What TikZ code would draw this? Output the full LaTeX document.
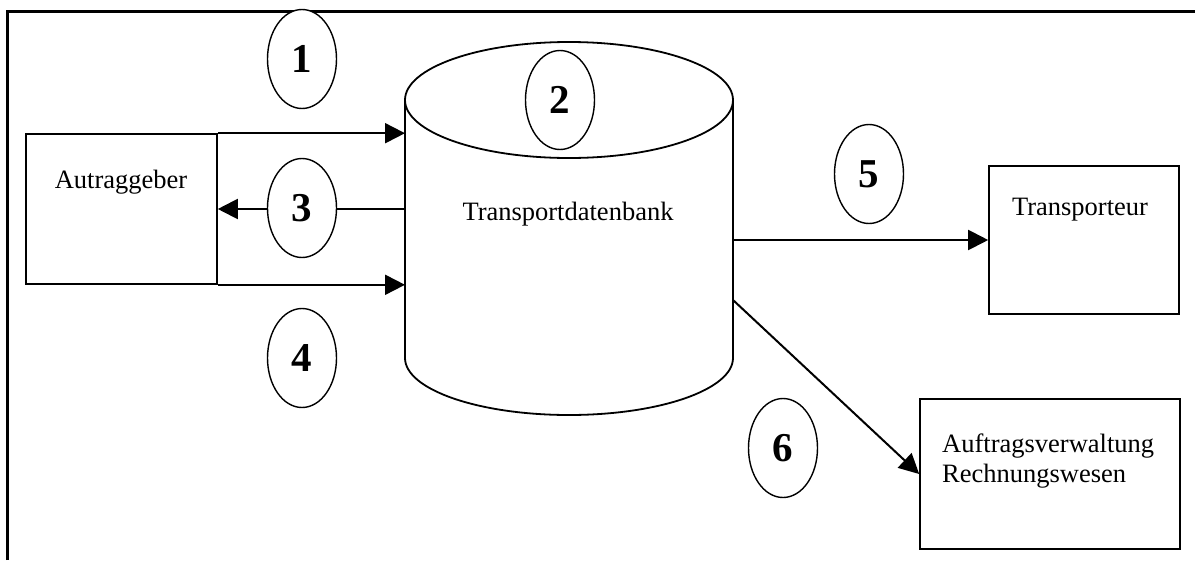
\documentclass[tikz,border=0pt]{standalone}
\usepackage{fontspec}
\setmainfont{Liberation Serif}
\usetikzlibrary{arrows.meta,shapes.geometric}
\begin{document}
\begin{tikzpicture}[x=1pt,y=-1pt,
  box/.style={draw,line width=1.6pt,inner sep=0pt},
  num/.style={draw,ellipse,line width=1.4pt,fill=white,minimum width=69pt,minimum height=99pt,inner sep=0pt,font=\fontsize{41}{41}\selectfont\bfseries},
  lbl/.style={font=\fontsize{26.5}{30.5}\selectfont,inner sep=0pt},
  conn/.style={line width=2pt,-{Triangle[length=20pt,width=20pt]}}]
\useasboundingbox (0,0) rectangle (1195,560);
% frame
\draw[line width=3pt] (7,560) -- (7,11) -- (1195,11);
% boxes
\node[box,minimum width=191pt,minimum height=150pt] (auft) at (121.5,209) {};
\node[lbl] (autxt) at (121,182) {Autraggeber};
\node[box,minimum width=190pt,minimum height=148pt] (tr) at (1084,240) {};
\node[lbl] (trtxt) at (1080,210) {Transporteur};
\node[box,minimum width=260pt,minimum height=150pt] (rw) at (1050,474) {};
\node[lbl,align=left,anchor=west] (rwtxt) at (942,461) {Auftragsverwaltung\\Rechnungswesen};
% database cylinder
\draw[line width=1.8pt] (569,100) ellipse[x radius=164,y radius=58];
\draw[line width=1.8pt] (405,100) -- (405,358) arc[start angle=180,end angle=0,x radius=164,y radius=57] -- (733,100);
\node[inner sep=0pt,outer sep=0pt,minimum width=328pt,minimum height=373pt] (db) at (569,228.5) {};
\node[lbl] (dbtxt) at (568,214) {Transportdatenbank};
% connectors
\draw[conn] (auft.north east) -- (auft.north east -| db.west);
\draw[conn] (auft.east -| db.west) -- (auft.east);
\draw[conn] (auft.south east) -- (auft.south east -| db.west);
\draw[conn] (db.east |- tr.west) -- (tr.west);
\coordinate (d6) at (733,300);
\draw[conn] (d6) -- (rw.west);
% numbers
\node[num] (e1) at (302,59) {1};
\node[num] (e2) at (560,100) {2};
\node[num] (e3) at (302,208) {3};
\node[num] (e4) at (302,358) {4};
\node[num] (e5) at (869,174) {5};
\node[num] (e6) at (783,448) {6};
\end{tikzpicture}
\end{document}
